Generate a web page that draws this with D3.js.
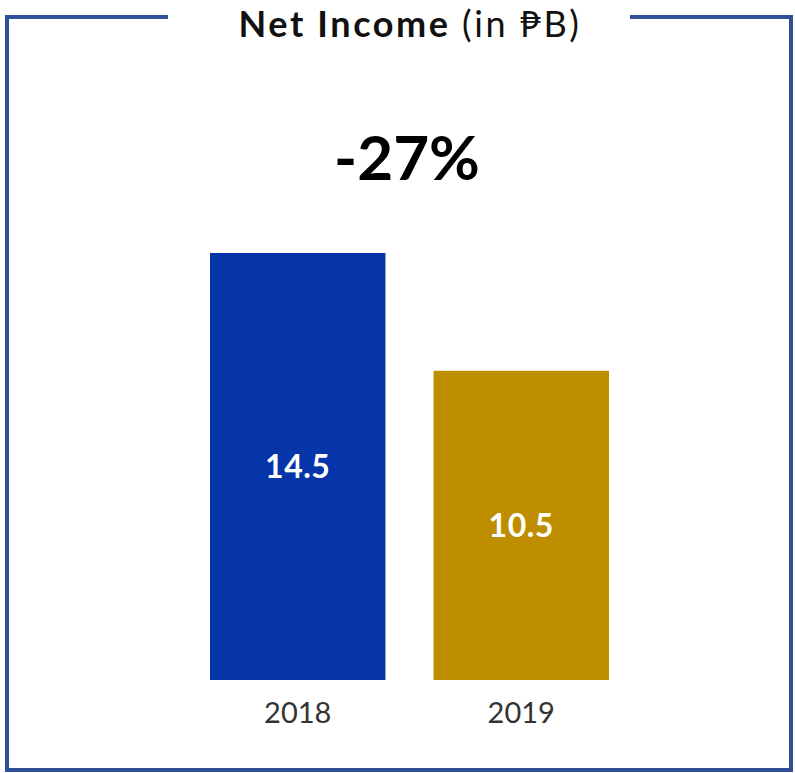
<!DOCTYPE html>
<html>
<head>
<meta charset="utf-8">
<script src="https://cdn.jsdelivr.net/npm/d3@7/dist/d3.min.js"></script>
<style>
  html, body { margin: 0; padding: 0; background: #ffffff; }
  svg { display: block; }
</style>
</head>
<body>
<svg id="chart" width="795" height="773"></svg>
<script>
// Net income by year, in billions of pesos
const years = ["2018", "2019"];
const netIncome = [14.5, 10.5];
const barColors = ["#0535a8", "#be8e00"];
const changeLabel = "-27%";

const W = 795, H = 773;
const svg = d3.select("#chart");
const font = "Lato, 'Open Sans', 'DejaVu Sans', sans-serif";

// Frame with a gap at the top for the title
const frameColor = "#2f4f96";
const frame = svg.append("g")
  .attr("fill", "none")
  .attr("stroke", frameColor)
  .attr("stroke-width", 4);
frame.append("path")
  .attr("d", d3.line()([[168, 17], [7, 17], [7, 770], [791, 770], [791, 17], [630, 17]]));

// Title
const title = svg.append("text")
  .attr("x", 410).attr("y", 37)
  .attr("text-anchor", "middle")
  .attr("font-family", font)
  .attr("font-size", 36)
  .attr("letter-spacing", 2.6)
  .attr("fill", "#111");
title.append("tspan").attr("font-weight", "bold").text("Net Income ");
title.append("tspan").attr("font-weight", "normal").text("(in ₱B)");

// Change headline
svg.append("text")
  .attr("x", 407).attr("y", 180)
  .attr("text-anchor", "middle")
  .attr("font-family", font)
  .attr("font-weight", "bold")
  .attr("font-size", 62)
  .attr("fill", "#000")
  .text(changeLabel);

// Scales
const x = d3.scaleBand()
  .domain(years)
  .range([210, 609])
  .paddingInner(0.215)
  .paddingOuter(0);
const y = d3.scaleLinear()
  .domain([0, 14.5])
  .range([680, 253]);

const data = years.map((yr, i) => ({ year: yr, value: netIncome[i], color: barColors[i] }));

// Bars
svg.append("g").selectAll("rect")
  .data(data)
  .join("rect")
  .attr("x", d => x(d.year))
  .attr("y", d => y(d.value))
  .attr("width", x.bandwidth())
  .attr("height", d => y(0) - y(d.value))
  .attr("fill", d => d.color);

// Value labels, centred in each bar
svg.append("g").selectAll("text")
  .data(data)
  .join("text")
  .attr("x", d => x(d.year) + x.bandwidth() / 2)
  .attr("y", d => (y(d.value) + y(0)) / 2)
  .attr("dy", "0.35em")
  .attr("text-anchor", "middle")
  .attr("font-family", font)
  .attr("font-weight", "bold")
  .attr("font-size", 32)
  .attr("letter-spacing", 0.5)
  .attr("fill", "#ffffff")
  .text(d => d.value.toFixed(1));

// Category axis (labels only)
const xAxis = svg.append("g")
  .attr("transform", `translate(0,${y(0)})`)
  .call(d3.axisBottom(x).tickSize(0).tickPadding(0));
xAxis.select(".domain").remove();
xAxis.selectAll("text")
  .attr("y", 43)
  .attr("dy", 0)
  .attr("font-family", font)
  .attr("font-size", 29)
  .attr("fill", "#333");
</script>
</body>
</html>
